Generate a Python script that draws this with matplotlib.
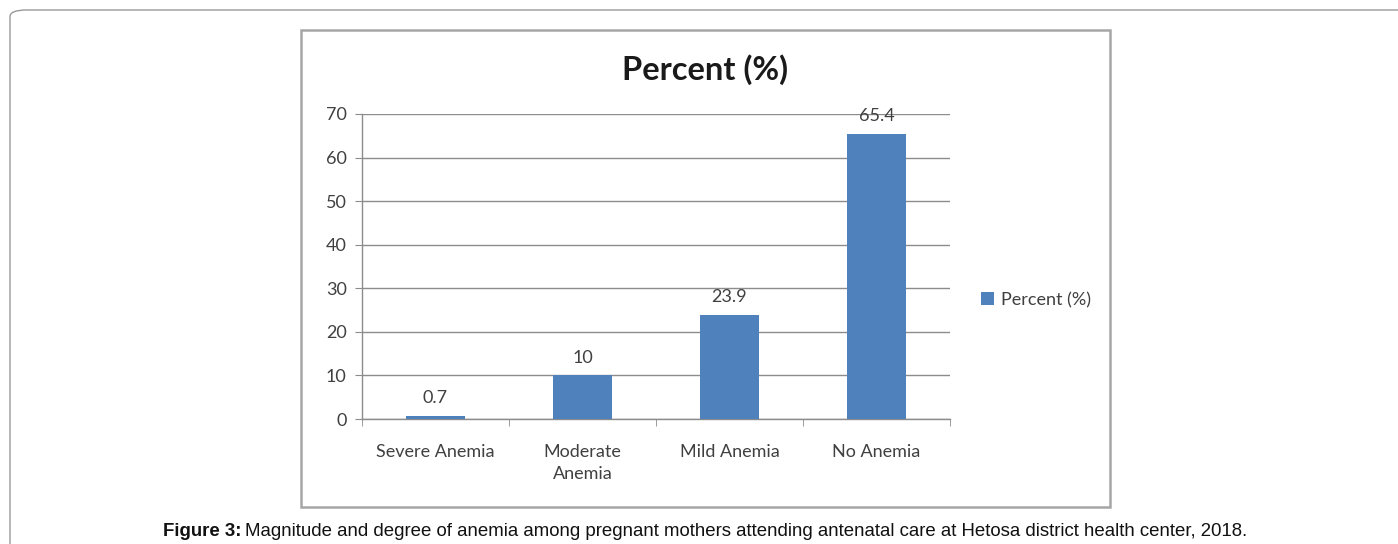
import numpy as np
import matplotlib.pyplot as plt
from matplotlib.patches import Rectangle, FancyBboxPatch

categories = ["Severe Anemia", "Moderate\nAnemia", "Mild Anemia", "No Anemia"]
percent = [0.7, 10, 23.9, 65.4]
value_labels = ["0.7", "10", "23.9", "65.4"]
yticks = [0, 10, 20, 30, 40, 50, 60, 70]

bar_color = "#4F81BD"
grid_color = "#8C8C8C"
text_color = "#404040"

plt.rcParams['font.family'] = ['Lato', 'DejaVu Sans']

fig = plt.figure(figsize=(13.98, 5.44), dpi=100)

# outer page panel and inner chart box
fig.patches.append(FancyBboxPatch((10 / 1398, -0.2), 1.2, 1.2 - 10 / 544,
                                  boxstyle="round,pad=0,rounding_size=0.012",
                                  transform=fig.transFigure, fill=False,
                                  edgecolor="#9A9A9A", linewidth=1.0))
fig.patches.append(Rectangle((301 / 1398, 1 - 507 / 544), 809 / 1398, 477 / 544,
                             transform=fig.transFigure, fill=False,
                             edgecolor="#A6A6A6", linewidth=1.8))

ax = fig.add_axes([362 / 1398, 1 - 419 / 544, 588 / 1398, 305 / 544])
x = np.arange(len(categories))
bars = ax.bar(x, percent, width=0.4, color=bar_color, label="Percent (%)", zorder=3)

for xi, v, lab in zip(x, percent, value_labels):
    ax.annotate(lab, (xi, v), xytext=(0, 7), textcoords="offset points",
                ha="center", va="bottom", fontsize=13, color=text_color)

ax.set_xlim(-0.5, len(categories) - 0.5)
ax.set_ylim(0, 70)
ax.set_yticks(yticks)
ax.set_yticklabels([str(t) for t in yticks], fontsize=13, color=text_color)
ax.set_xticks(x)
ax.set_xticklabels(categories, fontsize=13, color=text_color, linespacing=1.45)
ax.set_xticks(np.arange(len(categories) + 1) - 0.5, minor=True)
ax.tick_params(axis="x", which="major", length=0, pad=18)
ax.tick_params(axis="x", which="minor", length=5, color=grid_color, direction="out")
ax.tick_params(axis="y", length=5, color=grid_color, pad=6)
ax.yaxis.grid(True, color=grid_color, linewidth=1.0, zorder=0)
ax.set_axisbelow(True)
for s in ["top", "right"]:
    ax.spines[s].set_visible(False)
for s in ["left", "bottom"]:
    ax.spines[s].set_color(grid_color)
    ax.spines[s].set_linewidth(1.0)

fig.text(705 / 1398, 1 - 70 / 544, "Percent (%)", ha="center", va="center",
         fontsize=23.5, fontweight="bold", color="#1A1A1A")

fig.legend(handles=[bars], loc="center left", bbox_to_anchor=(965 / 1398, 1 - 300 / 544),
           frameon=False, fontsize=13, handlelength=0.7, handleheight=0.7,
           handletextpad=0.4, labelcolor=text_color)

# caption
cap = fig.text(163 / 1398, 1 - 531 / 544, "Figure 3:", ha="left", va="center",
               fontsize=13.45, fontweight="bold", family="Liberation Sans", color="#111111")
fig.canvas.draw()
bb = cap.get_window_extent()
fig.text(bb.x1 / 1398 + 4 / 1398, 1 - 531 / 544,
         "Magnitude and degree of anemia among pregnant mothers attending antenatal care at Hetosa district health center, 2018.",
         ha="left", va="center", fontsize=13.45, family="Liberation Sans", color="#111111")

fig.savefig("out.png", dpi=100)
